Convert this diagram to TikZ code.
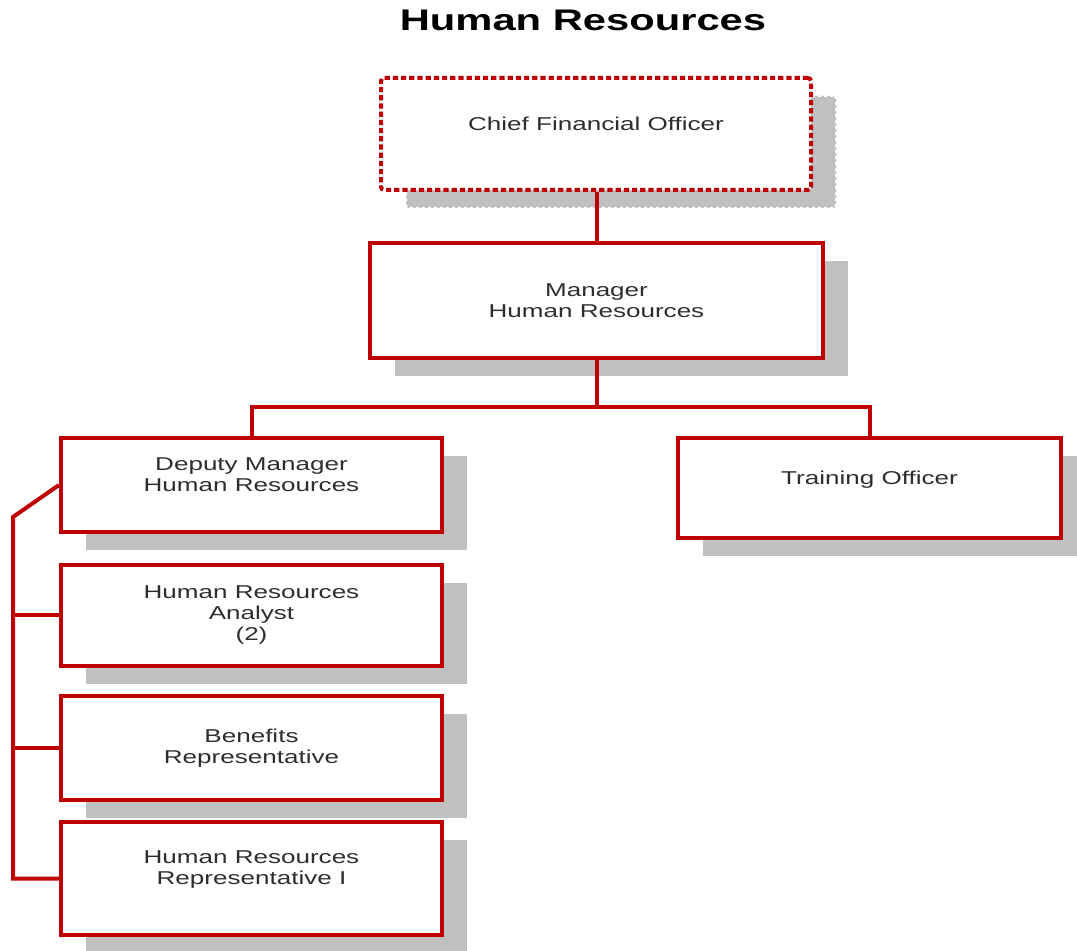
\documentclass[tikz,border=0pt]{standalone}
\usepackage{xcolor}
\usepackage{fontspec}
\setmainfont{Liberation Sans}[FakeStretch=1.4]
\usepackage{tikz}
\usetikzlibrary{positioning, shadows, calc}

\definecolor{hrred}{HTML}{C00000}
\definecolor{boxshadow}{HTML}{C0C0C0}
\definecolor{hrtext}{HTML}{2E2E2E}

\tikzset{
  post/.style={draw=hrred, line width=2pt, fill=white, align=center,
    text=hrtext, font=\fontsize{9.3}{10.5}\selectfont, inner sep=0pt,
    drop shadow={shadow xshift=12.5pt, shadow yshift=-9pt, fill=boxshadow, opacity=1}},
  vacant/.style={post, rounded corners=1.5pt, dash pattern=on 2.6pt off 1.5pt,
    drop shadow={shadow xshift=12.5pt, shadow yshift=-9pt, fill=boxshadow, opacity=1,
      draw=white, line width=1pt, dash pattern=on 1.5pt off 1.5pt, rounded corners=0pt}},
  link/.style={draw=hrred, line width=2pt}
}

\begin{document}
\begin{tikzpicture}[x=0.5pt, y=-0.5pt]
    \useasboundingbox (0,0) rectangle (1077,951);

    % heading
    \node[text=black, font=\fontsize{14.9}{17}\selectfont\bfseries] (title) at (583,20) {Human Resources};

    % top of the chart
    \node[vacant, minimum width=215pt, minimum height=56pt] (cfo) at (596,134) {Chief Financial Officer\\ \mbox{}};
    \node[post, minimum width=226.5pt, minimum height=57.5pt] (mgr) at (596.5,300.5) {Manager\\Human Resources};

    % second level
    \node[post, minimum width=190.5pt, minimum height=47pt] (depmgr) at (251.5,485) {Deputy Manager\\Human Resources\\ \mbox{}};
    \node[post, minimum width=191.5pt, minimum height=50pt] (trainer) at (869.5,488) {Training Officer\\ \mbox{}};

    % staff under the deputy
    \node[post, minimum width=190.5pt, minimum height=50.5pt] (analyst) at (251.5,615.5) {Human Resources\\Analyst\\(2)};
    \node[post, minimum width=190.5pt, minimum height=52pt] (benefits) at (251.5,748) {Benefits\\Representative};
    \node[post, minimum width=190.5pt, minimum height=56.5pt] (hrrep) at (251.5,878.5) {Human Resources\\Representative I\\ \mbox{}};

    % reporting lines
    \coordinate (split) at (596.5,407);
    \coordinate (bend) at (13,517);
    \draw[link] (cfo.south -| mgr.north) -- (mgr.north);
    \draw[link] (mgr.south) -- (split);
    \draw[link, line join=miter] (depmgr.north) |- (split) -| (trainer.north);
    \draw[link, line join=miter] (depmgr.west) -- (bend) |- (hrrep.west);
    \draw[link] (bend |- analyst.west) -- (analyst.west);
    \draw[link] (bend |- benefits.west) -- (benefits.west);
\end{tikzpicture}
\end{document}
